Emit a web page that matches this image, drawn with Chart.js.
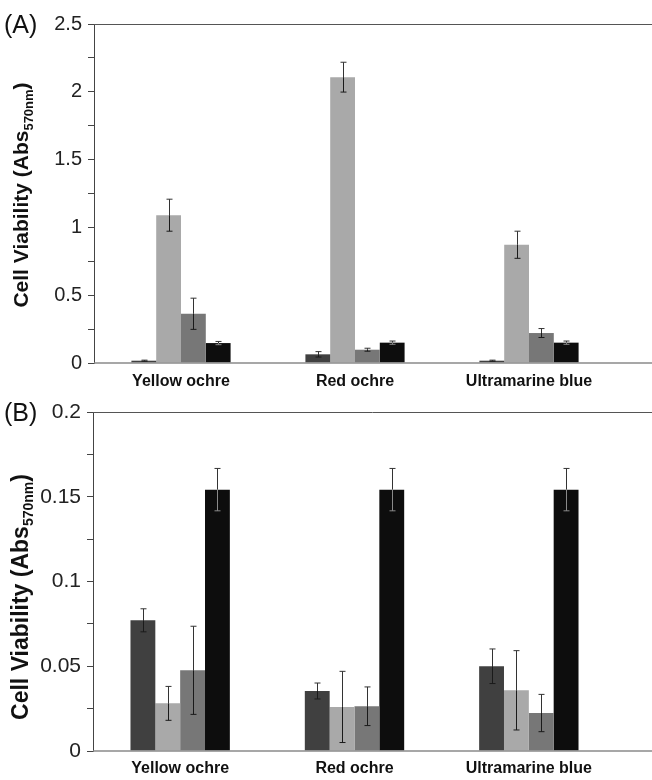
<!DOCTYPE html>
<html>
<head>
<meta charset="utf-8">
<script src="https://cdn.jsdelivr.net/npm/chart.js@4.4.1/dist/chart.umd.min.js"></script>
<style>
  html, body { margin: 0; padding: 0; background: #fff; }
  body { width: 652px; height: 780px; position: relative; overflow: hidden; }
  canvas { position: absolute; left: 0; }
  #cA { top: 0; }
  #cB { top: 392px; }
</style>
</head>
<body>
<canvas id="cA" width="652" height="392"></canvas>
<canvas id="cB" width="652" height="388"></canvas>
<script>
// ---- Data ----
const categories = ['Yellow ochre', 'Red ochre', 'Ultramarine blue'];
const seriesNames = ['Series 1', 'Series 2', 'Series 3', 'Series 4'];
const seriesColors = ['#404040', '#a9a9a9', '#777777', '#0d0d0d'];

// Panel A
const a1 = [0.017, 0.064, 0.017];
const a1Err = [0.004, 0.020, 0.004];
const a2 = [1.090, 2.108, 0.872];
const a2Err = [0.118, 0.110, 0.100];
const a3 = [0.363, 0.098, 0.221];
const a3Err = [0.115, 0.011, 0.033];
const a4 = [0.147, 0.150, 0.150];
const a4Err = [0.012, 0.012, 0.012];

// Panel B
const b1 = [0.0771, 0.0354, 0.0500];
const b1Err = [0.0068, 0.0047, 0.0102];
const b2 = [0.0281, 0.0260, 0.0358];
const b2Err = [0.0100, 0.0210, 0.0234];
const b3 = [0.0476, 0.0264, 0.0224];
const b3Err = [0.0260, 0.0114, 0.0110];
const b4 = [0.1542, 0.1542, 0.1542];
const b4Err = [0.0125, 0.0125, 0.0125];

const yTitleMain = 'Cell Viability (Abs';
const yTitleSub = '570nm';
const yTitleEnd = ')';

function makeChart(id, cfg) {
  const FONT = "'Liberation Sans', Arial, sans-serif";
  const errPlugin = {
    id: 'errbars',
    afterDatasetsDraw(chart) {
      const ctx = chart.ctx;
      const ys = chart.scales.y;
      const a = chart.chartArea;
      // baseline across the full width
      ctx.save();
      ctx.strokeStyle = '#8a8a8a';
      ctx.lineWidth = 1.5;
      ctx.beginPath();
      ctx.moveTo(a.left, a.bottom);
      ctx.lineTo(chart.width, a.bottom);
      ctx.stroke();
      ctx.restore();
      chart.data.datasets.forEach((ds, i) => {
        const meta = chart.getDatasetMeta(i);
        meta.data.forEach((el, j) => {
          const v = ds.data[j], e = cfg.errs[i][j];
          const yt = ys.getPixelForValue(v + e);
          const yb = ys.getPixelForValue(Math.max(0, v - e));
          const yv = ys.getPixelForValue(v);
          const x = Math.round(el.x) + 0.5;
          ctx.save();
          ctx.lineWidth = 1;
          ctx.strokeStyle = '#333';
          ctx.beginPath();
          ctx.moveTo(x, yt); ctx.lineTo(x, yv);
          ctx.moveTo(x - 3, yt); ctx.lineTo(x + 3, yt);
          ctx.stroke();
          ctx.strokeStyle = i === 3 ? '#8a8a8a' : '#1a1a1a';
          ctx.beginPath();
          ctx.moveTo(x, yv); ctx.lineTo(x, yb);
          ctx.moveTo(x - 3, yb); ctx.lineTo(x + 3, yb);
          ctx.stroke();
          ctx.restore();
        });
      });
    },
    afterDraw(chart) {
      const ctx = chart.ctx;
      const a = chart.chartArea;
      ctx.save();
      // top frame line
      ctx.strokeStyle = '#555';
      ctx.lineWidth = 1;
      ctx.beginPath();
      ctx.moveTo(a.left, Math.round(a.top) + 0.5);
      ctx.lineTo(chart.width, Math.round(a.top) + 0.5);
      ctx.stroke();
      // panel label
      ctx.fillStyle = '#111';
      ctx.font = '25px ' + FONT;
      ctx.textBaseline = 'middle';
      ctx.textAlign = 'left';
      ctx.fillText(cfg.panel, 4, cfg.panelY);
      // y title with subscript
      ctx.translate(cfg.titleX, cfg.titleY);
      ctx.rotate(-Math.PI / 2);
      const mainFont = 'bold ' + cfg.titleSize + 'px ' + FONT;
      const subFont = 'bold ' + cfg.subSize + 'px ' + FONT;
      ctx.font = mainFont; const w1 = ctx.measureText(yTitleMain).width;
      const w3 = ctx.measureText(yTitleEnd).width;
      ctx.font = subFont; const w2 = ctx.measureText(yTitleSub).width;
      let x0 = -(w1 + w2 + w3) / 2;
      ctx.textBaseline = 'alphabetic';
      ctx.fillStyle = '#111';
      ctx.font = mainFont; ctx.fillText(yTitleMain, x0, 7);
      ctx.font = subFont; ctx.fillText(yTitleSub, x0 + w1, 12);
      ctx.font = mainFont; ctx.fillText(yTitleEnd, x0 + w1 + w2, 7);
      ctx.restore();
    }
  };
  return new Chart(document.getElementById(id), {
    type: 'bar',
    data: {
      labels: categories,
      datasets: cfg.series.map((d, i) => ({
        label: seriesNames[i],
        data: d,
        backgroundColor: seriesColors[i],
        borderWidth: 0,
        barPercentage: 1.0,
        categoryPercentage: 0.57
      }))
    },
    options: {
      responsive: false,
      animation: false,
      devicePixelRatio: 1,
      layout: { padding: { left: 0, right: 36, top: cfg.top, bottom: 0 } },
      plugins: { legend: { display: false }, tooltip: { enabled: false }, title: { display: false } },
      scales: {
        x: {
          grid: { display: false, drawTicks: false },
          border: { display: false },
          ticks: { color: '#111', font: { family: FONT, size: 16, weight: 'bold' }, padding: cfg.xPad, maxRotation: 0 },
          afterFit(s) { s.height = cfg.xH; }
        },
        y: {
          min: 0, max: cfg.max,
          grid: { display: true, drawOnChartArea: false, drawTicks: true, tickLength: 6, color: '#444' },
          border: { display: true, color: '#444', width: 1 },
          ticks: {
            stepSize: cfg.step, color: '#222', padding: 6,
            font: { family: FONT, size: cfg.tickSize },
            callback(v) {
              const r = v / cfg.major;
              if (Math.abs(r - Math.round(r)) < 1e-6) return String(parseFloat(v.toFixed(4)));
              return '';
            }
          },
          afterFit(s) { s.width = cfg.yW; }
        }
      }
    },
    plugins: [errPlugin]
  });
}

makeChart('cA', {
  series: [a1, a2, a3, a4], errs: [a1Err, a2Err, a3Err, a4Err],
  max: 2.5, step: 0.25, major: 0.5, top: 24, xH: 29, yW: 94, xPad: 9, tickSize: 20,
  panel: '(A)', panelY: 26, titleX: 21, titleY: 195, titleSize: 21, subSize: 13
});
makeChart('cB', {
  series: [b1, b2, b3, b4], errs: [b1Err, b2Err, b3Err, b4Err],
  max: 0.2, step: 0.025, major: 0.05, top: 20, xH: 29, yW: 93, xPad: 8, tickSize: 21,
  panel: '(B)', panelY: 22, titleX: 21, titleY: 205, titleSize: 23, subSize: 14
});
</script>
</body>
</html>
